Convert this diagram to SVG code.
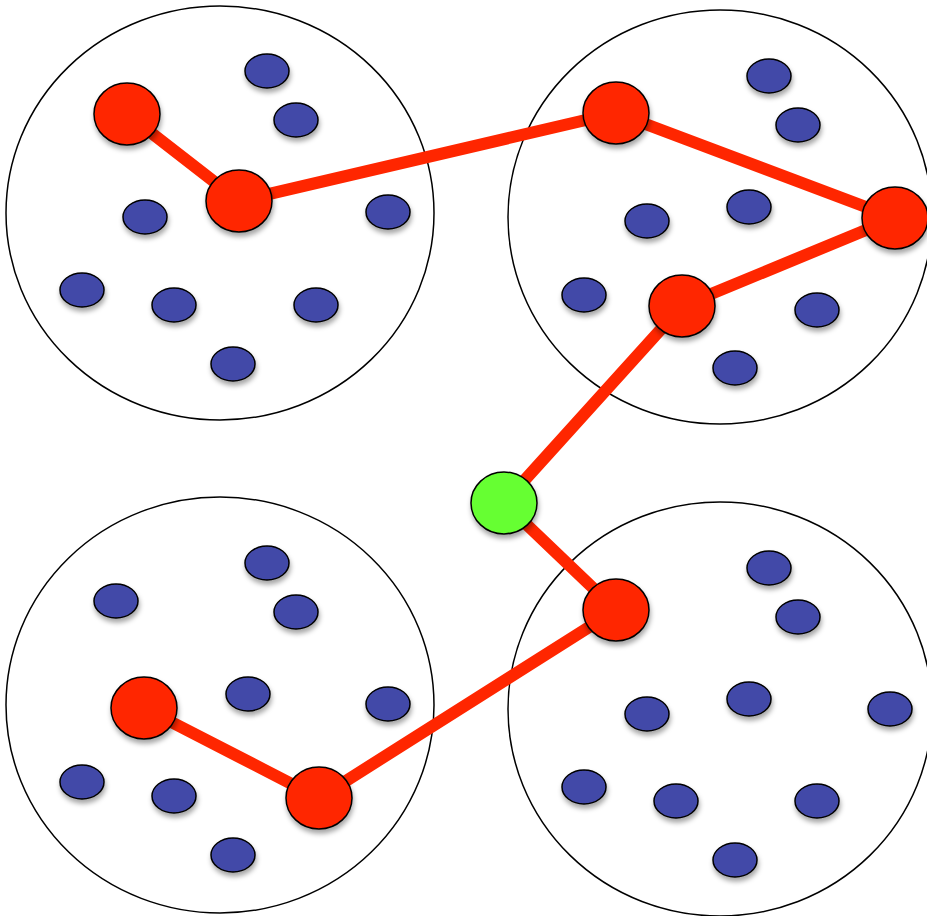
<svg xmlns="http://www.w3.org/2000/svg" width="927" height="916" viewBox="0 0 927 916">
<defs>
<filter id="sh" x="-30%" y="-30%" width="160%" height="170%">
<feDropShadow dx="1" dy="4" stdDeviation="2.5" flood-color="#000" flood-opacity="0.35"/>
</filter>
<style>
.cl{fill:none;stroke:#000;stroke-width:1.5}
.e{stroke:#ff2600;stroke-width:12;fill:none;stroke-linecap:butt}
.b{fill:#434aa8;stroke:#000;stroke-width:1.5;filter:url(#sh)}
.r{fill:#ff2600;stroke:#000;stroke-width:1.5;filter:url(#sh)}
.g{fill:#66ff33;stroke:#000;stroke-width:1.5;filter:url(#sh)}
</style>
</defs>
<rect width="927" height="916" fill="#fff"/>
<g id="clusters">
<ellipse class="cl" cx="220" cy="213" rx="214" ry="207"/>
<ellipse class="cl" cx="720" cy="217" rx="212" ry="207"/>
<ellipse class="cl" cx="220" cy="705" rx="214" ry="208"/>
<ellipse class="cl" cx="720" cy="709" rx="212" ry="207"/>
</g>
<g id="blue-nodes">
<ellipse class="b" cx="267" cy="71" rx="22" ry="17"/>
<ellipse class="b" cx="296" cy="120" rx="22" ry="17"/>
<ellipse class="b" cx="145" cy="217" rx="22" ry="17"/>
<ellipse class="b" cx="388" cy="212" rx="22" ry="17"/>
<ellipse class="b" cx="82" cy="290" rx="22" ry="17"/>
<ellipse class="b" cx="174" cy="305" rx="22" ry="17"/>
<ellipse class="b" cx="316" cy="305" rx="22" ry="17"/>
<ellipse class="b" cx="233" cy="364" rx="22" ry="17"/>
<ellipse class="b" cx="769" cy="76" rx="22" ry="17"/>
<ellipse class="b" cx="798" cy="125" rx="22" ry="17"/>
<ellipse class="b" cx="647" cy="221" rx="22" ry="17"/>
<ellipse class="b" cx="749" cy="207" rx="22" ry="17"/>
<ellipse class="b" cx="584" cy="295" rx="22" ry="17"/>
<ellipse class="b" cx="817" cy="310" rx="22" ry="17"/>
<ellipse class="b" cx="735" cy="368" rx="22" ry="17"/>
<ellipse class="b" cx="267" cy="563" rx="22" ry="17"/>
<ellipse class="b" cx="296" cy="612" rx="22" ry="17"/>
<ellipse class="b" cx="116" cy="601" rx="22" ry="17"/>
<ellipse class="b" cx="248" cy="694" rx="22" ry="17"/>
<ellipse class="b" cx="388" cy="704" rx="22" ry="17"/>
<ellipse class="b" cx="82" cy="782" rx="22" ry="17"/>
<ellipse class="b" cx="174" cy="796" rx="22" ry="17"/>
<ellipse class="b" cx="233" cy="855" rx="22" ry="17"/>
<ellipse class="b" cx="769" cy="568" rx="22" ry="17"/>
<ellipse class="b" cx="798" cy="617" rx="22" ry="17"/>
<ellipse class="b" cx="647" cy="714" rx="22" ry="17"/>
<ellipse class="b" cx="749" cy="699" rx="22" ry="17"/>
<ellipse class="b" cx="890" cy="709" rx="22" ry="17"/>
<ellipse class="b" cx="584" cy="787" rx="22" ry="17"/>
<ellipse class="b" cx="676" cy="801" rx="22" ry="17"/>
<ellipse class="b" cx="817" cy="801" rx="22" ry="17"/>
<ellipse class="b" cx="735" cy="860" rx="22" ry="17"/>
</g>
<g id="connectors">
<polyline class="e" points="127,114 239,201 616,113 895,218 682,306 504,503 616,610 319,798 144,708"/>
</g>
<g id="n-tl1"><ellipse class="r" cx="127" cy="114" rx="33" ry="31"/></g>
<g id="n-tl2"><ellipse class="r" cx="239" cy="201" rx="33" ry="31"/></g>
<g id="n-tr1"><ellipse class="r" cx="616" cy="113" rx="33" ry="31"/></g>
<g id="n-tr2"><ellipse class="r" cx="895" cy="218" rx="33" ry="31"/></g>
<g id="n-tr3"><ellipse class="r" cx="682" cy="306" rx="33" ry="31"/></g>
<g id="n-green"><ellipse class="g" cx="504" cy="503" rx="33" ry="31"/></g>
<g id="n-br1"><ellipse class="r" cx="616" cy="610" rx="33" ry="31"/></g>
<g id="n-bl2"><ellipse class="r" cx="319" cy="798" rx="33" ry="31"/></g>
<g id="n-bl1"><ellipse class="r" cx="144" cy="708" rx="33" ry="31"/></g>
</svg>
